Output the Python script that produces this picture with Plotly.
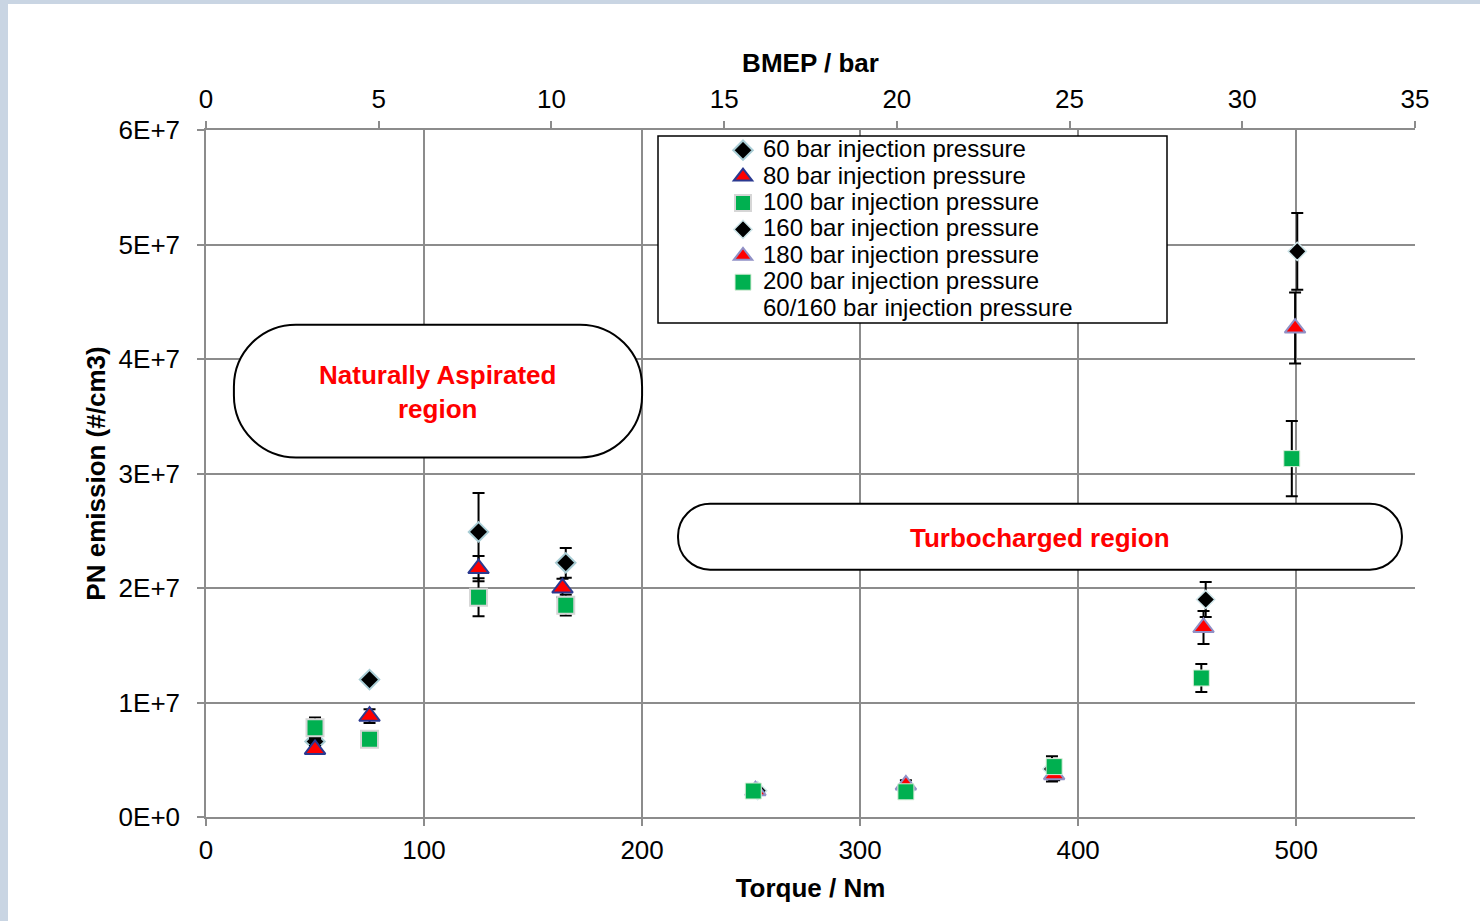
import plotly.graph_objects as go

# ---------------- data ----------------
series_names = [
    "60 bar injection pressure",
    "80 bar injection pressure",
    "100 bar injection pressure",
    "160 bar injection pressure",
    "180 bar injection pressure",
    "200 bar injection pressure",
    "60/160 bar injection pressure",
]

torque_60 = [50, 75, 125, 165]
pn_60 = [6.6e6, 1.20e7, 2.49e7, 2.22e7]
err_60 = [0.3e6, 0.25e6, 3.4e6, 1.3e6]

torque_80 = [50, 75, 125, 163.5]
pn_80 = [5.9e6, 8.8e6, 2.17e7, 2.0e7]
err_80 = [0.3e6, 0.6e6, 1.1e6, 0.8e6]

torque_100 = [50, 75, 125, 165]
pn_100 = [7.8e6, 6.8e6, 1.92e7, 1.85e7]
err_100 = [0.9e6, 0.2e6, 1.66e6, 0.9e6]

torque_160 = [253, 321, 388, 458.5, 500.5]
pn_160 = [2.3e6, 2.35e6, 4.2e6, 1.90e7, 4.94e7]
err_160 = [0.2e6, 0.4e6, 1.1e6, 1.53e6, 3.36e6]

torque_180 = [252, 321, 389, 457.5, 499.5]
pn_180 = [2.3e6, 2.8e6, 3.7e6, 1.655e7, 4.27e7]
err_180 = [0.2e6, 0.4e6, 0.5e6, 1.44e6, 3.1e6]

torque_200 = [251, 321, 389, 456.5, 498]
pn_200 = [2.27e6, 2.2e6, 4.4e6, 1.214e7, 3.13e7]
err_200 = [0.15e6, 0.3e6, 0.5e6, 1.22e6, 3.28e6]

x_ticks = [0, 100, 200, 300, 400, 500]
x2_ticks = [0, 5, 10, 15, 20, 25, 30, 35]
y_ticks = [0, 1e7, 2e7, 3e7, 4e7, 5e7, 6e7]
y_ticktext = ["0E+0", "1E+7", "2E+7", "3E+7", "4E+7", "5E+7", "6E+7"]

# ---------------- layout constants ----------------
W, H = 1480, 921
ML, MR, MT, MB = 206, 65, 130, 104
PW, PH = W - ML - MR, H - MT - MB
X_RANGE = [0, 554.5]
X2_RANGE = [0, 35]
Y_RANGE = [0, 6e7]
FONT = "Liberation Sans, Arial, sans-serif"
GRID = "#8c8c8c"

fig = go.Figure()


def add_series(name, x, y, err, symbol, size, fill, line_color, line_w):
    fig.add_trace(go.Scatter(
        x=x, y=y, mode="markers", name=f'<span style="font-size:24px">{name}</span>',
        marker=dict(symbol=symbol, size=size, color=fill,
                    line=dict(color=line_color, width=line_w)),
        error_y=dict(type="data", array=err, visible=True, color="black",
                     thickness=2, width=6),
    ))


add_series(series_names[0], torque_60, pn_60, err_60, "diamond", 15, "black", "#a9cdd5", 2)
add_series(series_names[1], torque_80, pn_80, err_80, "triangle-up", 18, "#ff0000", "#2b3990", 2)
add_series(series_names[2], torque_100, pn_100, err_100, "square", 17, "#00b050", "#d6d6d6", 2)
add_series(series_names[3], torque_160, pn_160, err_160, "diamond", 14, "black", "#cfe6ea", 1.5)
add_series(series_names[4], torque_180, pn_180, err_180, "triangle-up", 18, "#ff0000", "#9090c6", 2)
add_series(series_names[5], torque_200, pn_200, err_200, "square", 16, "#00b050", "#d8ecd8", 1)
# 60/160 series has no visible mark; it is placed on the BMEP (top) axis
fig.add_trace(go.Scatter(
    x=[None], y=[None], mode="markers", xaxis="x2", yaxis="y",
    name=f'<span style="font-size:24px">{series_names[6]}</span>',
    marker=dict(symbol="circle", size=8, color="rgba(0,0,0,0)"),
))


# ---------------- decorations ----------------
def stadium(x0, x1, y0, y1, r_px):
    rx = r_px * (X_RANGE[1] - X_RANGE[0]) / PW
    ry = r_px * (Y_RANGE[1] - Y_RANGE[0]) / PH
    k = 0.5523
    p = [
        f"M{x0 + rx},{y1}", f"L{x1 - rx},{y1}",
        f"C{x1 - rx + k * rx},{y1} {x1},{y1 - ry + k * ry} {x1},{y1 - ry}",
        f"L{x1},{y0 + ry}",
        f"C{x1},{y0 + ry - k * ry} {x1 - rx + k * rx},{y0} {x1 - rx},{y0}",
        f"L{x0 + rx},{y0}",
        f"C{x0 + rx - k * rx},{y0} {x0},{y0 + ry - k * ry} {x0},{y0 + ry}",
        f"L{x0},{y1 - ry}",
        f"C{x0},{y1 - ry + k * ry} {x0 + rx - k * rx},{y1} {x0 + rx},{y1}",
        "Z",
    ]
    return " ".join(p)


def px_x(px):
    return (px - ML) / PW


def px_y(py):
    return (H - MB - py) / PH


shapes = [
    # white sheet over blue-grey page
    dict(type="rect", xref="paper", yref="paper", x0=px_x(8), x1=px_x(1490),
         y0=px_y(930), y1=px_y(4), fillcolor="white", line=dict(width=0), layer="below"),
    dict(type="path", xref="x", yref="y", path=stadium(12.8, 200, 3.14e7, 4.30e7, 62),
         fillcolor="white", line=dict(color="black", width=2), layer="between"),
    dict(type="path", xref="x", yref="y", path=stadium(216.5, 548.5, 2.16e7, 2.735e7, 32),
         fillcolor="white", line=dict(color="black", width=2), layer="between"),
    # legend frame
    dict(type="rect", xref="paper", yref="paper", x0=px_x(658), x1=px_x(1167),
         y0=px_y(323), y1=px_y(136), fillcolor="white",
         line=dict(color="black", width=1.5), layer="above"),
]

annotations = [
    dict(x=106.4, y=3.71e7, xref="x", yref="y", showarrow=False,
         text="Naturally Aspirated<br>region",
         font=dict(family=FONT, size=26, color="#ff0000", weight="bold")),
    dict(x=382.6, y=2.44e7, xref="x", yref="y", showarrow=False,
         text="Turbocharged region",
         font=dict(family=FONT, size=26, color="#ff0000", weight="bold")),
]

axis_common = dict(showline=True, linecolor=GRID, linewidth=1.5, ticks="outside",
                   ticklen=7, tickcolor=GRID, tickwidth=1.5, zeroline=False,
                   tickfont=dict(family=FONT, size=26, color="black"))

fig.update_layout(
    width=W, height=H,
    margin=dict(l=ML, r=MR, t=MT, b=MB, autoexpand=False),
    paper_bgcolor="#c9d5e3",
    plot_bgcolor="white",
    font=dict(family=FONT, color="black"),
    showlegend=True,
    legend=dict(x=px_x(723), y=px_y(132), xanchor="left", yanchor="top",
                bgcolor="rgba(0,0,0,0)", borderwidth=0,
                font=dict(family=FONT, size=18, color="black")),
    xaxis=dict(range=X_RANGE, tickvals=x_ticks, showgrid=True, gridcolor=GRID,
               gridwidth=1.5, ticklabelstandoff=2,
               title=dict(text="Torque / Nm", standoff=15,
                          font=dict(family=FONT, size=26, weight="bold")),
               **axis_common),
    xaxis2=dict(range=X2_RANGE, tickvals=x2_ticks, overlaying="x", side="top",
                anchor="y", showgrid=False, ticklabelstandoff=3,
                title=dict(text="BMEP / bar", standoff=4,
                           font=dict(family=FONT, size=26, weight="bold")),
                **axis_common),
    yaxis=dict(range=Y_RANGE, tickvals=y_ticks, ticktext=y_ticktext, showgrid=True,
               gridcolor=GRID, gridwidth=1.5, ticklabelstandoff=12,
               title=dict(text="PN emission (#/cm3)", standoff=5,
                          font=dict(family=FONT, size=26, weight="bold")),
               **axis_common),
    shapes=shapes,
    annotations=annotations,
)

fig.write_html("out.html")
